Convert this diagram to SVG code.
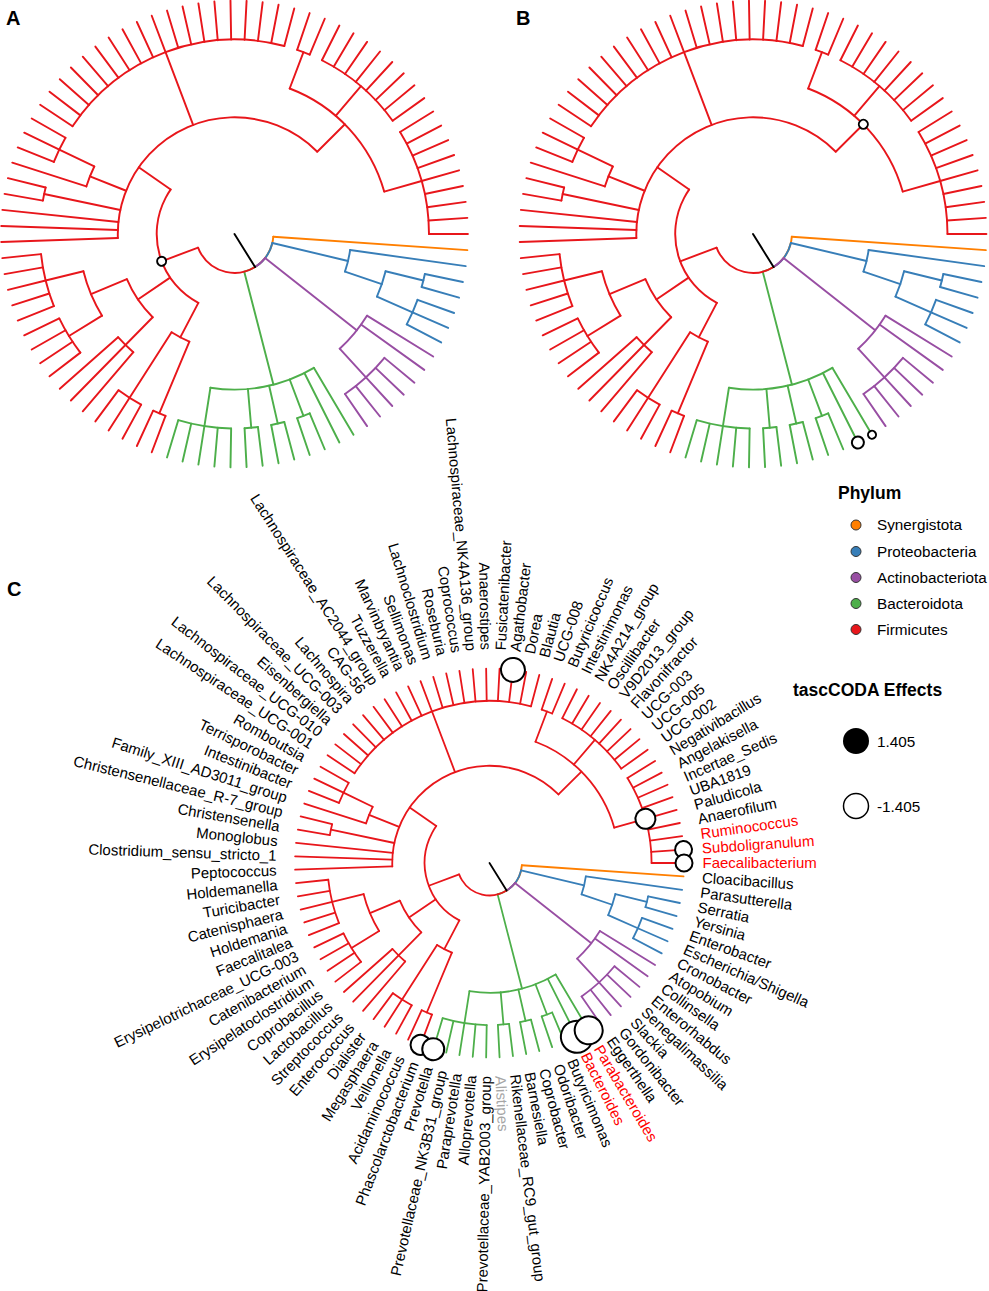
<svg xmlns="http://www.w3.org/2000/svg" xmlns:xlink="http://www.w3.org/1999/xlink" width="989" height="1291" viewBox="0 0 989 1291">
<style>
.o{stroke:#FF7F00}.b{stroke:#377EB8}.p{stroke:#984EA3}.g{stroke:#4DAF4A}.r{stroke:#E8161B}.k{stroke:#000}
text{font-family:"Liberation Sans",Arial,Helvetica,sans-serif;fill:#000}
.lab text{font-size:15px}
.L{text-anchor:end}
.rd{fill:#FF0000}
.gy{fill:#A6A6A6}
.bub{fill:#fff;stroke:#000}
.ttl{font-size:17.5px;font-weight:bold}
.lt{font-size:15.3px}
.pl{font-size:20px;font-weight:bold}
.dot{stroke:#333;stroke-width:1}
</style>
<defs>
<g id="tree" fill="none" stroke-linecap="round">
<g class="o">
<circle r="32.42" pathLength="360" stroke-dasharray="54.15 360" transform="rotate(3.956)"/>
<line x1="32.42" x2="194.5" transform="rotate(3.956)"/>
</g>
<g class="b">
<circle r="32.42" pathLength="360" stroke-dasharray="44.75 360" transform="rotate(13.352)"/>
<line x1="32.42" x2="97.25" transform="rotate(13.352)"/>
<circle r="97.25" pathLength="360" stroke-dasharray="10.879 360" transform="rotate(7.912)"/>
<line x1="97.25" x2="194.5" transform="rotate(7.912)"/>
<line x1="97.25" x2="129.67" transform="rotate(18.791)"/>
<circle r="129.67" pathLength="360" stroke-dasharray="9.89 360" transform="rotate(13.846)"/>
<line x1="129.67" x2="162.08" transform="rotate(13.846)"/>
<circle r="162.08" pathLength="360" stroke-dasharray="3.956 360" transform="rotate(11.868)"/>
<line x1="162.08" x2="194.5" transform="rotate(11.868)"/>
<line x1="162.08" x2="194.5" transform="rotate(15.824)"/>
<line x1="129.67" x2="162.08" transform="rotate(23.736)"/>
<circle r="162.08" pathLength="360" stroke-dasharray="7.912 360" transform="rotate(19.78)"/>
<line x1="162.08" x2="194.5" transform="rotate(19.78)"/>
<line x1="162.08" x2="194.5" transform="rotate(23.736)"/>
<line x1="162.08" x2="194.5" transform="rotate(27.692)"/>
</g>
<g class="p">
<circle r="32.42" pathLength="360" stroke-dasharray="19.86 360" transform="rotate(38.242)"/>
<line x1="32.42" x2="129.67" transform="rotate(38.242)"/>
<circle r="129.67" pathLength="360" stroke-dasharray="15.825 360" transform="rotate(31.648)"/>
<line x1="129.67" x2="194.5" transform="rotate(31.648)"/>
<line x1="129.67" x2="194.5" transform="rotate(35.604)"/>
<line x1="129.67" x2="162.08" transform="rotate(47.473)"/>
<circle r="162.08" pathLength="360" stroke-dasharray="15.825 360" transform="rotate(39.56)"/>
<line x1="162.08" x2="194.5" transform="rotate(39.56)"/>
<line x1="162.08" x2="194.5" transform="rotate(43.516)"/>
<line x1="162.08" x2="194.5" transform="rotate(47.473)"/>
<line x1="162.08" x2="194.5" transform="rotate(51.429)"/>
<line x1="162.08" x2="194.5" transform="rotate(55.385)"/>
</g>
<g class="g">
<circle r="32.42" pathLength="360" stroke-dasharray="17.39 360" transform="rotate(58.104)"/>
<line x1="32.42" x2="129.67" transform="rotate(75.495)"/>
<circle r="129.67" pathLength="360" stroke-dasharray="39.56 360" transform="rotate(59.341)"/>
<line x1="129.67" x2="194.5" transform="rotate(59.341)"/>
<line x1="129.67" x2="194.5" transform="rotate(63.297)"/>
<line x1="129.67" x2="162.08" transform="rotate(69.231)"/>
<circle r="162.08" pathLength="360" stroke-dasharray="3.956 360" transform="rotate(67.253)"/>
<line x1="162.08" x2="194.5" transform="rotate(67.253)"/>
<line x1="162.08" x2="194.5" transform="rotate(71.209)"/>
<line x1="129.67" x2="162.08" transform="rotate(77.143)"/>
<circle r="162.08" pathLength="360" stroke-dasharray="3.956 360" transform="rotate(75.165)"/>
<line x1="162.08" x2="194.5" transform="rotate(75.165)"/>
<line x1="162.08" x2="194.5" transform="rotate(79.121)"/>
<line x1="129.67" x2="162.08" transform="rotate(85.055)"/>
<circle r="162.08" pathLength="360" stroke-dasharray="3.956 360" transform="rotate(83.077)"/>
<line x1="162.08" x2="194.5" transform="rotate(83.077)"/>
<line x1="162.08" x2="194.5" transform="rotate(87.033)"/>
<line x1="129.67" x2="162.08" transform="rotate(98.901)"/>
<circle r="162.08" pathLength="360" stroke-dasharray="15.824 360" transform="rotate(90.989)"/>
<line x1="162.08" x2="194.5" transform="rotate(90.989)"/>
<line x1="162.08" x2="194.5" transform="rotate(94.945)"/>
<line x1="162.08" x2="194.5" transform="rotate(98.901)"/>
<line x1="162.08" x2="194.5" transform="rotate(102.857)"/>
<line x1="162.08" x2="194.5" transform="rotate(106.813)"/>
</g>
<g class="r">
<circle r="32.42" pathLength="360" stroke-dasharray="101.37 360" transform="rotate(58.104)"/>
<line x1="32.42" x2="64.83" transform="rotate(159.474)"/>
<circle r="64.83" pathLength="360" stroke-dasharray="97.159 360" transform="rotate(117.692)"/>
<line x1="64.83" x2="97.25" transform="rotate(117.692)"/>
<circle r="97.25" pathLength="360" stroke-dasharray="9.89 360" transform="rotate(112.747)"/>
<line x1="97.25" x2="162.08" transform="rotate(112.747)"/>
<circle r="162.08" pathLength="360" stroke-dasharray="3.956 360" transform="rotate(110.769)"/>
<line x1="162.08" x2="194.5" transform="rotate(110.769)"/>
<line x1="162.08" x2="194.5" transform="rotate(114.725)"/>
<line x1="97.25" x2="162.08" transform="rotate(122.637)"/>
<circle r="162.08" pathLength="360" stroke-dasharray="7.912 360" transform="rotate(118.681)"/>
<line x1="162.08" x2="194.5" transform="rotate(118.681)"/>
<line x1="162.08" x2="194.5" transform="rotate(122.637)"/>
<line x1="162.08" x2="194.5" transform="rotate(126.593)"/>
<line x1="64.83" x2="97.25" transform="rotate(145.879)"/>
<circle r="97.25" pathLength="360" stroke-dasharray="22.748 360" transform="rotate(134.505)"/>
<line x1="97.25" x2="129.67" transform="rotate(134.505)"/>
<circle r="129.67" pathLength="360" stroke-dasharray="7.913 360" transform="rotate(130.549)"/>
<line x1="129.67" x2="194.5" transform="rotate(130.549)"/>
<line x1="129.67" x2="194.5" transform="rotate(134.505)"/>
<line x1="129.67" x2="194.5" transform="rotate(138.462)"/>
<line x1="97.25" x2="129.67" transform="rotate(157.253)"/>
<circle r="129.67" pathLength="360" stroke-dasharray="17.802 360" transform="rotate(148.352)"/>
<line x1="129.67" x2="162.08" transform="rotate(148.352)"/>
<circle r="162.08" pathLength="360" stroke-dasharray="11.868 360" transform="rotate(142.418)"/>
<line x1="162.08" x2="194.5" transform="rotate(142.418)"/>
<line x1="162.08" x2="194.5" transform="rotate(146.374)"/>
<line x1="162.08" x2="194.5" transform="rotate(150.33)"/>
<line x1="162.08" x2="194.5" transform="rotate(154.286)"/>
<line x1="129.67" x2="162.08" transform="rotate(166.154)"/>
<circle r="162.08" pathLength="360" stroke-dasharray="15.824 360" transform="rotate(158.242)"/>
<line x1="162.08" x2="194.5" transform="rotate(158.242)"/>
<line x1="162.08" x2="194.5" transform="rotate(162.198)"/>
<line x1="162.08" x2="194.5" transform="rotate(166.154)"/>
<line x1="162.08" x2="194.5" transform="rotate(170.11)"/>
<line x1="162.08" x2="194.5" transform="rotate(174.066)"/>
<line x1="64.83" x2="97.25" transform="rotate(214.851)"/>
<circle r="97.25" pathLength="360" stroke-dasharray="137.143 360" transform="rotate(178.022)"/>
<line x1="97.25" x2="194.5" transform="rotate(178.022)"/>
<line x1="97.25" x2="194.5" transform="rotate(181.978)"/>
<line x1="97.25" x2="194.5" transform="rotate(185.934)"/>
<line x1="97.25" x2="162.08" transform="rotate(191.868)"/>
<circle r="162.08" pathLength="360" stroke-dasharray="3.956 360" transform="rotate(189.89)"/>
<line x1="162.08" x2="194.5" transform="rotate(189.89)"/>
<line x1="162.08" x2="194.5" transform="rotate(193.846)"/>
<line x1="97.25" x2="129.67" transform="rotate(201.758)"/>
<circle r="129.67" pathLength="360" stroke-dasharray="7.912 360" transform="rotate(197.802)"/>
<line x1="129.67" x2="194.5" transform="rotate(197.802)"/>
<line x1="129.67" x2="162.08" transform="rotate(205.714)"/>
<circle r="162.08" pathLength="360" stroke-dasharray="7.912 360" transform="rotate(201.758)"/>
<line x1="162.08" x2="194.5" transform="rotate(201.758)"/>
<line x1="162.08" x2="194.5" transform="rotate(205.714)"/>
<line x1="162.08" x2="194.5" transform="rotate(209.67)"/>
<line x1="97.25" x2="162.08" transform="rotate(249.231)"/>
<circle r="162.08" pathLength="360" stroke-dasharray="71.209 360" transform="rotate(213.626)"/>
<line x1="162.08" x2="194.5" transform="rotate(213.626)"/>
<line x1="162.08" x2="194.5" transform="rotate(217.582)"/>
<line x1="162.08" x2="194.5" transform="rotate(221.538)"/>
<line x1="162.08" x2="194.5" transform="rotate(225.495)"/>
<line x1="162.08" x2="194.5" transform="rotate(229.451)"/>
<line x1="162.08" x2="194.5" transform="rotate(233.407)"/>
<line x1="162.08" x2="194.5" transform="rotate(237.363)"/>
<line x1="162.08" x2="194.5" transform="rotate(241.319)"/>
<line x1="162.08" x2="194.5" transform="rotate(245.275)"/>
<line x1="162.08" x2="194.5" transform="rotate(249.231)"/>
<line x1="162.08" x2="194.5" transform="rotate(253.187)"/>
<line x1="162.08" x2="194.5" transform="rotate(257.143)"/>
<line x1="162.08" x2="194.5" transform="rotate(261.099)"/>
<line x1="162.08" x2="194.5" transform="rotate(265.055)"/>
<line x1="162.08" x2="194.5" transform="rotate(269.011)"/>
<line x1="162.08" x2="194.5" transform="rotate(272.967)"/>
<line x1="162.08" x2="194.5" transform="rotate(276.923)"/>
<line x1="162.08" x2="194.5" transform="rotate(280.879)"/>
<line x1="162.08" x2="194.5" transform="rotate(284.835)"/>
<line x1="97.25" x2="129.67" transform="rotate(315.165)"/>
<circle r="129.67" pathLength="360" stroke-dasharray="53.407 360" transform="rotate(290.769)"/>
<line x1="129.67" x2="162.08" transform="rotate(290.769)"/>
<circle r="162.08" pathLength="360" stroke-dasharray="3.956 360" transform="rotate(288.791)"/>
<line x1="162.08" x2="194.5" transform="rotate(288.791)"/>
<line x1="162.08" x2="194.5" transform="rotate(292.747)"/>
<line x1="129.67" x2="162.08" transform="rotate(310.549)"/>
<circle r="162.08" pathLength="360" stroke-dasharray="27.693 360" transform="rotate(296.703)"/>
<line x1="162.08" x2="194.5" transform="rotate(296.703)"/>
<line x1="162.08" x2="194.5" transform="rotate(300.659)"/>
<line x1="162.08" x2="194.5" transform="rotate(304.615)"/>
<line x1="162.08" x2="194.5" transform="rotate(308.571)"/>
<line x1="162.08" x2="194.5" transform="rotate(312.527)"/>
<line x1="162.08" x2="194.5" transform="rotate(316.484)"/>
<line x1="162.08" x2="194.5" transform="rotate(320.44)"/>
<line x1="162.08" x2="194.5" transform="rotate(324.396)"/>
<line x1="129.67" x2="162.08" transform="rotate(344.176)"/>
<circle r="162.08" pathLength="360" stroke-dasharray="31.648 360" transform="rotate(328.352)"/>
<line x1="162.08" x2="194.5" transform="rotate(328.352)"/>
<line x1="162.08" x2="194.5" transform="rotate(332.308)"/>
<line x1="162.08" x2="194.5" transform="rotate(336.264)"/>
<line x1="162.08" x2="194.5" transform="rotate(340.22)"/>
<line x1="162.08" x2="194.5" transform="rotate(344.176)"/>
<line x1="162.08" x2="194.5" transform="rotate(348.132)"/>
<line x1="162.08" x2="194.5" transform="rotate(352.088)"/>
<line x1="162.08" x2="194.5" transform="rotate(356.044)"/>
<line x1="162.08" x2="194.5" transform="rotate(360)"/>
</g>
<line class="k" x1="0" x2="32.42" transform="rotate(58.104)"/>
</g>
</defs>
<rect width="989" height="1291" fill="#fff"/>

<g id="panelA">
<text class="pl" x="6" y="25">A</text>
<use id="connectorsA" xlink:href="#tree" href="#tree" transform="translate(234.5,234) scale(1.2)" stroke-width="1.6"/>
<circle class="bub" r="4.5" stroke-width="2" transform="translate(234.5,234) rotate(159.474) translate(77.8,0)"/>
</g>

<g id="panelB">
<text class="pl" x="516" y="25">B</text>
<use id="connectorsB" xlink:href="#tree" href="#tree" transform="translate(753,234) scale(1.2)" stroke-width="1.6"/>
<circle class="bub" r="4.5" stroke-width="2" transform="translate(753,234) rotate(315.165) translate(155.6,0)"/>
<circle class="bub" r="6" stroke-width="2" transform="translate(753,234) rotate(63.297) translate(233.4,0)"/>
<circle class="bub" r="4" stroke-width="2" transform="translate(753,234) rotate(59.341) translate(233.4,0)"/>
</g>

<g id="panelC">
<text class="pl" x="7" y="596">C</text>
<use id="connectorsC" xlink:href="#tree" href="#tree" transform="translate(489.5,863)" stroke-width="1.8"/>
<g id="effects" transform="translate(489.5,863)" stroke-width="2">
<circle class="bub" r="12" transform="rotate(276.923) translate(194.5,0)"/>
<circle class="bub" r="10" transform="rotate(344.176) translate(162.08,0)"/>
<circle class="bub" r="8.5" transform="rotate(356.044) translate(194.5,0)"/>
<circle class="bub" r="8.5" transform="rotate(360) translate(194.5,0)"/>
<circle class="bub" r="16" transform="rotate(63.297) translate(194.5,0)"/>
<circle class="bub" r="14" transform="rotate(59.341) translate(194.5,0)"/>
<circle class="bub" r="10" transform="rotate(110.769) translate(194.5,0)"/>
<circle class="bub" r="11" transform="rotate(106.813) translate(194.5,0)"/>
</g>
<g class="lab" transform="translate(489.5,863)">
<g id="leaf-Cloacibacillus"><text transform="rotate(3.956)" x="213" dy=".35em">Cloacibacillus</text></g>
<g id="leaf-Parasutterella"><text transform="rotate(7.912)" x="213" dy=".35em">Parasutterella</text></g>
<g id="leaf-Serratia"><text transform="rotate(11.868)" x="213" dy=".35em">Serratia</text></g>
<g id="leaf-Yersinia"><text transform="rotate(15.824)" x="213" dy=".35em">Yersinia</text></g>
<g id="leaf-Enterobacter"><text transform="rotate(19.78)" x="213" dy=".35em">Enterobacter</text></g>
<g id="leaf-Escherichia-Shigella"><text transform="rotate(23.736)" x="213" dy=".35em">Escherichia/Shigella</text></g>
<g id="leaf-Cronobacter"><text transform="rotate(27.692)" x="213" dy=".35em">Cronobacter</text></g>
<g id="leaf-Atopobium"><text transform="rotate(31.648)" x="213" dy=".35em">Atopobium</text></g>
<g id="leaf-Collinsella"><text transform="rotate(35.604)" x="213" dy=".35em">Collinsella</text></g>
<g id="leaf-Enterorhabdus"><text transform="rotate(39.56)" x="213" dy=".35em">Enterorhabdus</text></g>
<g id="leaf-Senegalimassilia"><text transform="rotate(43.516)" x="213" dy=".35em">Senegalimassilia</text></g>
<g id="leaf-Slackia"><text transform="rotate(47.473)" x="213" dy=".35em">Slackia</text></g>
<g id="leaf-Gordonibacter"><text transform="rotate(51.429)" x="213" dy=".35em">Gordonibacter</text></g>
<g id="leaf-Eggerthella"><text transform="rotate(55.385)" x="213" dy=".35em">Eggerthella</text></g>
<g id="leaf-Parabacteroides"><text class="rd" transform="rotate(59.341)" x="213" dy=".35em">Parabacteroides</text></g>
<g id="leaf-Bacteroides"><text class="rd" transform="rotate(63.297)" x="213" dy=".35em">Bacteroides</text></g>
<g id="leaf-Butyricimonas"><text transform="rotate(67.253)" x="213" dy=".35em">Butyricimonas</text></g>
<g id="leaf-Odoribacter"><text transform="rotate(71.209)" x="213" dy=".35em">Odoribacter</text></g>
<g id="leaf-Coprobacter"><text transform="rotate(75.165)" x="213" dy=".35em">Coprobacter</text></g>
<g id="leaf-Barnesiella"><text transform="rotate(79.121)" x="213" dy=".35em">Barnesiella</text></g>
<g id="leaf-Rikenellaceae_RC9_gut_group"><text transform="rotate(83.077)" x="213" dy=".35em">Rikenellaceae_RC9_gut_group</text></g>
<g id="leaf-Alistipes"><text class="gy" transform="rotate(87.033)" x="213" dy=".35em">Alistipes</text></g>
<g id="leaf-Prevotellaceae_YAB2003_group"><text class="L" transform="rotate(-89.011)" x="-213" dy=".35em">Prevotellaceae_YAB2003_group</text></g>
<g id="leaf-Alloprevotella"><text class="L" transform="rotate(-85.055)" x="-213" dy=".35em">Alloprevotella</text></g>
<g id="leaf-Paraprevotella"><text class="L" transform="rotate(-81.099)" x="-213" dy=".35em">Paraprevotella</text></g>
<g id="leaf-Prevotellaceae_NK3B31_group"><text class="L" transform="rotate(-77.143)" x="-213" dy=".35em">Prevotellaceae_NK3B31_group</text></g>
<g id="leaf-Prevotella"><text class="L" transform="rotate(-73.187)" x="-213" dy=".35em">Prevotella</text></g>
<g id="leaf-Phascolarctobacterium"><text class="L" transform="rotate(-69.231)" x="-213" dy=".35em">Phascolarctobacterium</text></g>
<g id="leaf-Acidaminococcus"><text class="L" transform="rotate(-65.275)" x="-213" dy=".35em">Acidaminococcus</text></g>
<g id="leaf-Veillonella"><text class="L" transform="rotate(-61.319)" x="-213" dy=".35em">Veillonella</text></g>
<g id="leaf-Megasphaera"><text class="L" transform="rotate(-57.363)" x="-213" dy=".35em">Megasphaera</text></g>
<g id="leaf-Dialister"><text class="L" transform="rotate(-53.407)" x="-213" dy=".35em">Dialister</text></g>
<g id="leaf-Enterococcus"><text class="L" transform="rotate(-49.451)" x="-213" dy=".35em">Enterococcus</text></g>
<g id="leaf-Streptococcus"><text class="L" transform="rotate(-45.495)" x="-213" dy=".35em">Streptococcus</text></g>
<g id="leaf-Lactobacillus"><text class="L" transform="rotate(-41.538)" x="-213" dy=".35em">Lactobacillus</text></g>
<g id="leaf-Coprobacillus"><text class="L" transform="rotate(-37.582)" x="-213" dy=".35em">Coprobacillus</text></g>
<g id="leaf-Erysipelatoclostridium"><text class="L" transform="rotate(-33.626)" x="-213" dy=".35em">Erysipelatoclostridium</text></g>
<g id="leaf-Catenibacterium"><text class="L" transform="rotate(-29.67)" x="-213" dy=".35em">Catenibacterium</text></g>
<g id="leaf-Erysipelotrichaceae_UCG-003"><text class="L" transform="rotate(-25.714)" x="-213" dy=".35em">Erysipelotrichaceae_UCG-003</text></g>
<g id="leaf-Faecalitalea"><text class="L" transform="rotate(-21.758)" x="-213" dy=".35em">Faecalitalea</text></g>
<g id="leaf-Holdemania"><text class="L" transform="rotate(-17.802)" x="-213" dy=".35em">Holdemania</text></g>
<g id="leaf-Catenisphaera"><text class="L" transform="rotate(-13.846)" x="-213" dy=".35em">Catenisphaera</text></g>
<g id="leaf-Turicibacter"><text class="L" transform="rotate(-9.89)" x="-213" dy=".35em">Turicibacter</text></g>
<g id="leaf-Holdemanella"><text class="L" transform="rotate(-5.934)" x="-213" dy=".35em">Holdemanella</text></g>
<g id="leaf-Peptococcus"><text class="L" transform="rotate(-1.978)" x="-213" dy=".35em">Peptococcus</text></g>
<g id="leaf-Clostridium_sensu_stricto_1"><text class="L" transform="rotate(1.978)" x="-213" dy=".35em">Clostridium_sensu_stricto_1</text></g>
<g id="leaf-Monoglobus"><text class="L" transform="rotate(5.934)" x="-213" dy=".35em">Monoglobus</text></g>
<g id="leaf-Christensenella"><text class="L" transform="rotate(9.89)" x="-213" dy=".35em">Christensenella</text></g>
<g id="leaf-Christensenellaceae_R-7_group"><text class="L" transform="rotate(13.846)" x="-213" dy=".35em">Christensenellaceae_R-7_group</text></g>
<g id="leaf-Family_XIII_AD3011_group"><text class="L" transform="rotate(17.802)" x="-213" dy=".35em">Family_XIII_AD3011_group</text></g>
<g id="leaf-Intestinibacter"><text class="L" transform="rotate(21.758)" x="-213" dy=".35em">Intestinibacter</text></g>
<g id="leaf-Terrisporobacter"><text class="L" transform="rotate(25.714)" x="-213" dy=".35em">Terrisporobacter</text></g>
<g id="leaf-Romboutsia"><text class="L" transform="rotate(29.67)" x="-213" dy=".35em">Romboutsia</text></g>
<g id="leaf-Lachnospiraceae_UCG-001"><text class="L" transform="rotate(33.626)" x="-213" dy=".35em">Lachnospiraceae_UCG-001</text></g>
<g id="leaf-Lachnospiraceae_UCG-010"><text class="L" transform="rotate(37.582)" x="-213" dy=".35em">Lachnospiraceae_UCG-010</text></g>
<g id="leaf-Eisenbergiella"><text class="L" transform="rotate(41.538)" x="-213" dy=".35em">Eisenbergiella</text></g>
<g id="leaf-Lachnospiraceae_UCG-003"><text class="L" transform="rotate(45.495)" x="-213" dy=".35em">Lachnospiraceae_UCG-003</text></g>
<g id="leaf-Lachnospira"><text class="L" transform="rotate(49.451)" x="-213" dy=".35em">Lachnospira</text></g>
<g id="leaf-CAG-56"><text class="L" transform="rotate(53.407)" x="-213" dy=".35em">CAG-56</text></g>
<g id="leaf-Lachnospiraceae_AC2044_group"><text class="L" transform="rotate(57.363)" x="-213" dy=".35em">Lachnospiraceae_AC2044_group</text></g>
<g id="leaf-Tuzzerella"><text class="L" transform="rotate(61.319)" x="-213" dy=".35em">Tuzzerella</text></g>
<g id="leaf-Marvinbryantia"><text class="L" transform="rotate(65.275)" x="-213" dy=".35em">Marvinbryantia</text></g>
<g id="leaf-Sellimonas"><text class="L" transform="rotate(69.231)" x="-213" dy=".35em">Sellimonas</text></g>
<g id="leaf-Lachnoclostridium"><text class="L" transform="rotate(73.187)" x="-213" dy=".35em">Lachnoclostridium</text></g>
<g id="leaf-Roseburia"><text class="L" transform="rotate(77.143)" x="-213" dy=".35em">Roseburia</text></g>
<g id="leaf-Coprococcus"><text class="L" transform="rotate(81.099)" x="-213" dy=".35em">Coprococcus</text></g>
<g id="leaf-Lachnospiraceae_NK4A136_group"><text class="L" transform="rotate(85.055)" x="-213" dy=".35em">Lachnospiraceae_NK4A136_group</text></g>
<g id="leaf-Anaerostipes"><text class="L" transform="rotate(89.011)" x="-213" dy=".35em">Anaerostipes</text></g>
<g id="leaf-Fusicatenibacter"><text transform="rotate(272.967)" x="213" dy=".35em">Fusicatenibacter</text></g>
<g id="leaf-Agathobacter"><text transform="rotate(276.923)" x="213" dy=".35em">Agathobacter</text></g>
<g id="leaf-Dorea"><text transform="rotate(280.879)" x="213" dy=".35em">Dorea</text></g>
<g id="leaf-Blautia"><text transform="rotate(284.835)" x="213" dy=".35em">Blautia</text></g>
<g id="leaf-UCG-008"><text transform="rotate(288.791)" x="213" dy=".35em">UCG-008</text></g>
<g id="leaf-Butyricicoccus"><text transform="rotate(292.747)" x="213" dy=".35em">Butyricicoccus</text></g>
<g id="leaf-Intestinimonas"><text transform="rotate(296.703)" x="213" dy=".35em">Intestinimonas</text></g>
<g id="leaf-NK4A214_group"><text transform="rotate(300.659)" x="213" dy=".35em">NK4A214_group</text></g>
<g id="leaf-Oscillibacter"><text transform="rotate(304.615)" x="213" dy=".35em">Oscillibacter</text></g>
<g id="leaf-V9D2013_group"><text transform="rotate(308.571)" x="213" dy=".35em">V9D2013_group</text></g>
<g id="leaf-Flavonifractor"><text transform="rotate(312.527)" x="213" dy=".35em">Flavonifractor</text></g>
<g id="leaf-UCG-003"><text transform="rotate(316.484)" x="213" dy=".35em">UCG-003</text></g>
<g id="leaf-UCG-005"><text transform="rotate(320.44)" x="213" dy=".35em">UCG-005</text></g>
<g id="leaf-UCG-002"><text transform="rotate(324.396)" x="213" dy=".35em">UCG-002</text></g>
<g id="leaf-Negativibacillus"><text transform="rotate(328.352)" x="213" dy=".35em">Negativibacillus</text></g>
<g id="leaf-Angelakisella"><text transform="rotate(332.308)" x="213" dy=".35em">Angelakisella</text></g>
<g id="leaf-Incertae_Sedis"><text transform="rotate(336.264)" x="213" dy=".35em">Incertae_Sedis</text></g>
<g id="leaf-UBA1819"><text transform="rotate(340.22)" x="213" dy=".35em">UBA1819</text></g>
<g id="leaf-Paludicola"><text transform="rotate(344.176)" x="213" dy=".35em">Paludicola</text></g>
<g id="leaf-Anaerofilum"><text transform="rotate(348.132)" x="213" dy=".35em">Anaerofilum</text></g>
<g id="leaf-Ruminococcus"><text class="rd" transform="rotate(352.088)" x="213" dy=".35em">Ruminococcus</text></g>
<g id="leaf-Subdoligranulum"><text class="rd" transform="rotate(356.044)" x="213" dy=".35em">Subdoligranulum</text></g>
<g id="leaf-Faecalibacterium"><text class="rd" transform="rotate(360)" x="213" dy=".35em">Faecalibacterium</text></g>
</g>
</g>

<g id="legend-phylum">
<text class="ttl" x="838" y="499">Phylum</text>
<circle class="dot" cx="856" cy="525" r="5" fill="#FF7F00"/>
<text class="lt" x="877" y="530">Synergistota</text>
<circle class="dot" cx="856" cy="551.5" r="5" fill="#377EB8"/>
<text class="lt" x="877" y="556.5">Proteobacteria</text>
<circle class="dot" cx="856" cy="577.5" r="5" fill="#984EA3"/>
<text class="lt" x="877" y="582.5">Actinobacteriota</text>
<circle class="dot" cx="856" cy="603.5" r="5" fill="#4DAF4A"/>
<text class="lt" x="877" y="608.5">Bacteroidota</text>
<circle class="dot" cx="856" cy="629.5" r="5" fill="#E8161B"/>
<text class="lt" x="877" y="634.5">Firmicutes</text>
</g>
<g id="legend-effects">
<text class="ttl" x="793" y="696">tascCODA Effects</text>
<circle cx="856" cy="741" r="13" fill="#000"/>
<text class="lt" x="877" y="746.5">1.405</text>
<circle cx="856" cy="806" r="12.5" fill="#fff" stroke="#000" stroke-width="1.5"/>
<text class="lt" x="877" y="811.5">-1.405</text>
</g>
</svg>
